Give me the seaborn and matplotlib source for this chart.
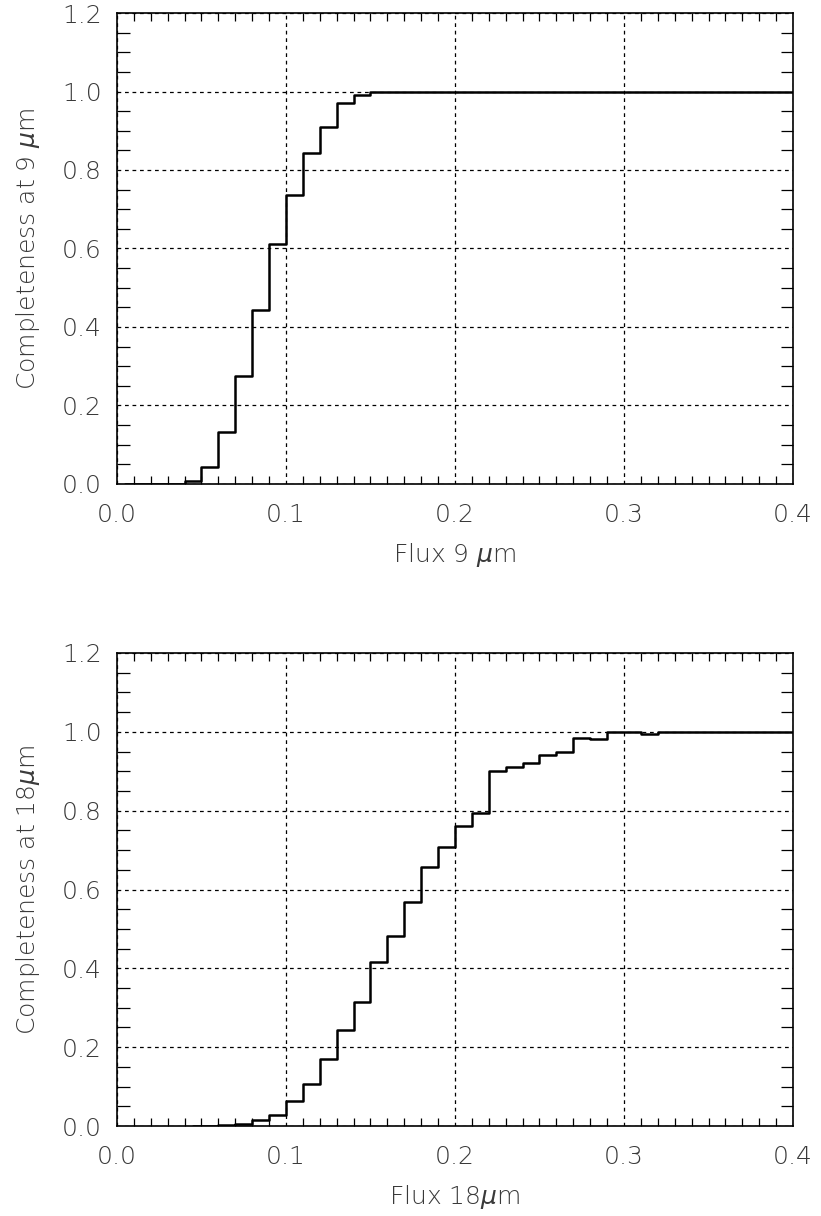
import seaborn as sns
from matplotlib import pyplot as plt
import matplotlib.ticker as ticker
import pandas as pd

# completeness per 0.01 flux bin (bin centres), 9 micron band
flux_9 = [0.005, 0.015, 0.025, 0.035, 0.045, 0.055, 0.065, 0.075, 0.085, 0.095,
          0.105, 0.115, 0.125, 0.135, 0.145, 0.155, 0.165, 0.175, 0.185, 0.195,
          0.205, 0.215, 0.225, 0.235, 0.245, 0.255, 0.265, 0.275, 0.285, 0.295,
          0.305, 0.315, 0.325, 0.335, 0.345, 0.355, 0.365, 0.375, 0.385, 0.395,
          0.405]
compl_9 = [0.0, 0.0, 0.0, 0.0, 0.007, 0.042, 0.133, 0.275, 0.442, 0.611,
           0.736, 0.843, 0.909, 0.970, 0.990, 1.0, 1.0, 1.0, 1.0, 1.0,
           1.0, 1.0, 1.0, 1.0, 1.0, 1.0, 1.0, 1.0, 1.0, 1.0,
           1.0, 1.0, 1.0, 1.0, 1.0, 1.0, 1.0, 1.0, 1.0, 1.0,
           1.0]

# 18 micron band
flux_18 = [0.045, 0.055, 0.065, 0.075, 0.085, 0.095,
           0.105, 0.115, 0.125, 0.135, 0.145, 0.155, 0.165, 0.175, 0.185, 0.195,
           0.205, 0.215, 0.225, 0.235, 0.245, 0.255, 0.265, 0.275, 0.285, 0.295,
           0.305, 0.315, 0.325, 0.335, 0.345, 0.355, 0.365, 0.375, 0.385, 0.395,
           0.405]
compl_18 = [0.0, 0.0, 0.002, 0.005, 0.015, 0.029,
            0.063, 0.106, 0.169, 0.243, 0.314, 0.415, 0.482, 0.569, 0.656, 0.708,
            0.762, 0.793, 0.900, 0.910, 0.920, 0.940, 0.948, 0.985, 0.982, 1.0,
            1.0, 0.995, 1.0, 1.0, 1.0, 1.0, 1.0, 1.0, 1.0, 1.0,
            1.0]

sns.set_theme(style='white')
plt.rcParams['font.family'] = ['DejaVu Sans']
plt.rcParams['font.weight'] = 'light'
plt.rcParams['axes.labelweight'] = 'light'
plt.rcParams['mathtext.fontset'] = 'custom'
plt.rcParams['mathtext.rm'] = 'DejaVu Sans:light'
plt.rcParams['mathtext.it'] = 'DejaVu Sans:italic:light'

df9 = pd.DataFrame({'flux': flux_9, 'compl': compl_9})
df18 = pd.DataFrame({'flux': flux_18, 'compl': compl_18})

fig = plt.figure(figsize=(8.21, 12.16), dpi=100)
ax1 = fig.add_axes([0.1425, 0.602, 0.8234, 0.3873])
ax2 = fig.add_axes([0.1425, 0.074, 0.8234, 0.389])

panels = [
    (ax1, df9, 'Flux 9 $\\mu$m', 'Completeness at 9 $\\mu$m'),
    (ax2, df18, 'Flux 18$\\mu$m', 'Completeness at 18$\\mu$m'),
]

txt = '#3a3a3a'

for ax, df, xl, yl in panels:
    sns.lineplot(x='flux', y='compl', data=df, ax=ax, estimator=None,
                 drawstyle='steps-mid', color='black', linewidth=1.8)
    ax.set_xlim(0, 0.4)
    ax.set_ylim(0, 1.2)
    ax.xaxis.set_major_locator(ticker.MultipleLocator(0.1))
    ax.xaxis.set_minor_locator(ticker.MultipleLocator(0.01))
    ax.yaxis.set_major_locator(ticker.MultipleLocator(0.2))
    ax.yaxis.set_minor_locator(ticker.MultipleLocator(0.05))
    ax.xaxis.set_major_formatter(ticker.FormatStrFormatter('%.1f'))
    ax.yaxis.set_major_formatter(ticker.FormatStrFormatter('%.1f'))
    ax.tick_params(which='both', direction='in', top=True, right=True,
                   bottom=True, left=True, color='black',
                   labelsize=18, labelcolor=txt)
    ax.tick_params(axis='x', which='major', length=0, pad=14)
    ax.tick_params(axis='y', which='major', length=0, pad=11)
    ax.tick_params(axis='x', which='minor', length=6, width=0.9)
    ax.tick_params(axis='y', which='minor', length=9, width=0.9)
    ax.grid(True, which='major', color='black', linestyle=(0, (3, 3)),
            linewidth=0.9)
    for sp in ax.spines.values():
        sp.set_color('black')
        sp.set_linewidth(1.2)
    ax.set_xlabel(xl, fontsize=18, color=txt, labelpad=10, fontweight='light')
    ax.set_ylabel(yl, fontsize=18, color=txt, labelpad=14, fontweight='light')

plt.savefig('out.png', dpi=100)
